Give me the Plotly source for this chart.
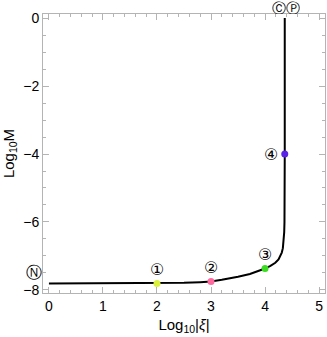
import plotly.graph_objects as go

# curve (log10 |xi|, log10 M)
curve_x = [0.0, 0.5, 1.0, 1.5, 2.0, 2.5, 2.8, 3.0, 3.2, 3.35, 3.5, 3.72, 3.85, 4.0, 4.1, 4.19, 4.25,
           4.28, 4.31, 4.33, 4.345, 4.355, 4.36, 4.363, 4.365, 4.365]
curve_y = [-7.81, -7.81, -7.81, -7.805, -7.80, -7.79, -7.77, -7.75, -7.70, -7.66, -7.61, -7.53, -7.46,
           -7.37, -7.29, -7.20, -7.10, -7.02, -6.90, -6.77, -6.55, -6.30, -6.0, -5.5, -4.0, 0.0]

# marked points
pt_x = [2.0, 3.0, 4.0, 4.365]
pt_y = [-7.81, -7.75, -7.37, -4.0]
pt_labels = ["①", "②", "③", "④"]
pt_colors = ["#dcf23a", "#ff6a9e", "#3bdc22", "#5a22e8"]

x_ticks = [0, 1, 2, 3, 4, 5]
y_ticks = [0, -2, -4, -6, -8]

fig = go.Figure()
fig.add_trace(go.Scatter(x=curve_x, y=curve_y, mode="lines",
                         line=dict(color="black", width=2), hoverinfo="skip"))
fig.add_trace(go.Scatter(x=pt_x, y=pt_y, mode="markers",
                         marker=dict(color=pt_colors, size=7, line=dict(width=0))))

font_lbl = dict(family="DejaVu Sans", size=16, color="black")
for i, (x, y, t) in enumerate(zip(pt_x, pt_y, pt_labels)):
    if i < 3:
        fig.add_annotation(x=x, y=y, text=t, showarrow=False, yshift=14, font=font_lbl)
    else:
        fig.add_annotation(x=x, y=y, text=t, showarrow=False, xshift=-14, font=font_lbl)
fig.add_annotation(x=-0.1, y=-7.5, xref="x", yref="y", text="Ⓝ", showarrow=False,
                   xanchor="right", xshift=0, font=font_lbl)
fig.add_annotation(x=4.365, y=0.12, xref="x", yref="y", text="ⒸⓅ", showarrow=False,
                   yanchor="middle", yshift=7, xshift=1, height=13, borderpad=0,
                   font=dict(family="DejaVu Sans", size=14, color="black"))

axis_common = dict(showline=True, linecolor="#b4b4b4", linewidth=1, mirror="allticks",
                   ticks="inside", tickcolor="#b4b4b4", ticklen=6, showgrid=False,
                   zeroline=False, automargin=False,
                   tickfont=dict(family="Liberation Sans", size=14, color="black"))

fig.update_xaxes(range=[-0.11, 5.11], tickvals=x_ticks,
                 minor=dict(dtick=0.2, ticks="inside", ticklen=3, tickcolor="#b4b4b4"),
                 title=dict(text="Log<sub>10</sub>|<i>ξ</i>|", standoff=6,
                            font=dict(family="Liberation Sans", size=15, color="black")),
                 **axis_common)
fig.update_yaxes(range=[-8.09, 0.12], tickvals=y_ticks,
                 minor=dict(dtick=0.5, ticks="inside", ticklen=3, tickcolor="#b4b4b4"),
                 title=dict(text="Log<sub>10</sub>M", standoff=6,
                            font=dict(family="Liberation Sans", size=15, color="black")),
                 **axis_common)

fig.update_layout(width=327, height=337, margin=dict(l=43, r=2, t=14, b=44),
                  plot_bgcolor="white", paper_bgcolor="white", showlegend=False)

fig.write_html("out.html", config={"displayModeBar": False},
               post_script="document.body.style.margin='0px';")
